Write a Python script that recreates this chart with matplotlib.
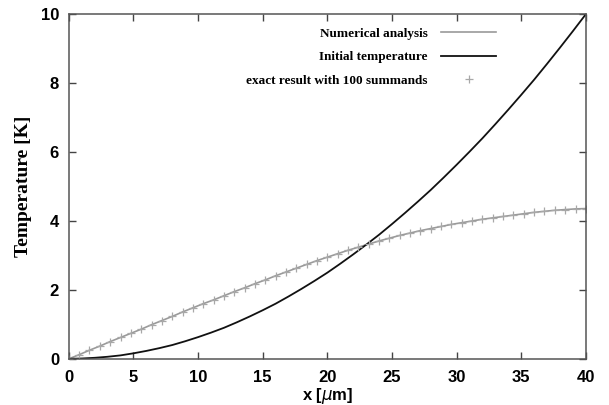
import numpy as np
import matplotlib
matplotlib.use('Agg')
import matplotlib.pyplot as plt

# positions along the rod [um]
x_num = np.arange(51) * 0.8
t_num = [0.00, 0.12, 0.25, 0.37, 0.50, 0.62, 0.74, 0.86, 0.99, 1.11,
         1.23, 1.36, 1.48, 1.60, 1.71, 1.83, 1.95, 2.06, 2.18, 2.29,
         2.41, 2.52, 2.63, 2.74, 2.85, 2.95, 3.05, 3.15, 3.24, 3.33,
         3.42, 3.50, 3.58, 3.65, 3.72, 3.78, 3.84, 3.90, 3.95, 4.00,
         4.05, 4.09, 4.13, 4.17, 4.21, 4.25, 4.28, 4.31, 4.33, 4.35,
         4.36]
# exact solution samples (same grid)
t_exact = t_num

x_init = np.arange(41)
t_init = [0.00, 0.01, 0.03, 0.06, 0.10, 0.16, 0.23, 0.31, 0.40, 0.51,
          0.63, 0.76, 0.90, 1.06, 1.23, 1.41, 1.60, 1.81, 2.03, 2.26,
          2.50, 2.76, 3.03, 3.31, 3.60, 3.91, 4.23, 4.56, 4.90, 5.26,
          5.63, 6.01, 6.40, 6.81, 7.23, 7.66, 8.10, 8.56, 9.03, 9.51,
          10.00]

xticks = [0, 5, 10, 15, 20, 25, 30, 35, 40]
yticks = [0, 2, 4, 6, 8, 10]

fig = plt.figure(figsize=(6.09, 4.05), dpi=100)
ax = fig.add_axes([0.113, 0.114, 0.849, 0.851])

ax.plot(x_num, t_num, color='#9a9a9a', linewidth=1.2, label='Numerical analysis')
ax.plot(x_init, t_init, color='#111111', linewidth=1.3, label='Initial temperature')
ax.plot(x_num, t_exact, linestyle='none', marker='+', markersize=6,
        markeredgewidth=0.9, color='#a8a8a8', label='exact result with 100 summands')

ax.set_xlim(0, 40)
ax.set_ylim(0, 10)
ax.set_xticks(xticks)
ax.set_yticks(yticks)
ax.tick_params(direction='in', length=5, width=1, color='#444444',
               top=True, right=True, labelsize=12)
ax.tick_params(axis='x', pad=8)
ax.tick_params(axis='y', pad=7)
for lab in ax.get_xticklabels() + ax.get_yticklabels():
    lab.set_fontfamily('Liberation Sans')
    lab.set_fontweight('bold')
for s in ax.spines.values():
    s.set_color('#555555')
    s.set_linewidth(1.1)

ax.set_xlabel(r'x [$\mu$m]', fontfamily='Liberation Sans', fontweight='bold',
              fontsize=12, labelpad=0.5)
ax.set_ylabel('Temperature [K]', fontfamily='Liberation Serif', fontweight='bold',
              fontsize=14, labelpad=6)

leg = ax.legend(loc='upper right', bbox_to_anchor=(0.85, 0.995), markerfirst=False,
                frameon=False, handlelength=4.2, handletextpad=1.0, labelspacing=0.85,
                prop={'family': 'Liberation Serif', 'weight': 'bold', 'size': 9.5})

fig.savefig('out.png', dpi=100)
